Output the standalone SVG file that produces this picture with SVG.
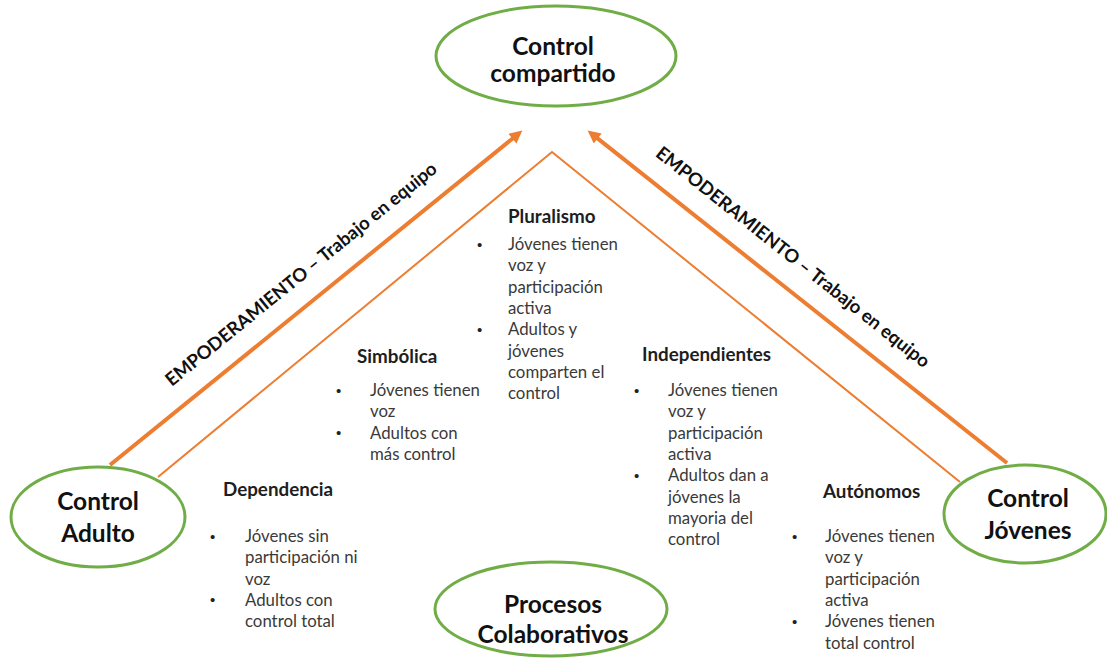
<svg xmlns="http://www.w3.org/2000/svg" width="1107" height="659" viewBox="0 0 1107 659">
  <style>
    .node ellipse { fill: #ffffff; stroke: #70ad47; stroke-width: 3; }
    .title { font-family: Lato, "Open Sans", sans-serif; font-weight: 700; font-size: 24.5px; fill: #111111; text-anchor: middle; }
    .head { font-family: Lato, "Open Sans", sans-serif; font-weight: 700; font-size: 18.8px; fill: #1e1e1e; }
    .item { font-family: Lato, "Open Sans", sans-serif; font-size: 16.8px; fill: #3a3a3a; }
    .dot { font-family: "Liberation Sans", sans-serif; font-size: 15px; fill: #222222; }
    .thick { stroke: #ed7d31; stroke-width: 4; fill: none; }
    .thin { stroke: #ed7d31; stroke-width: 2; fill: none; }
    .label { font-family: Lato, "Open Sans", sans-serif; font-weight: 700; font-size: 18.5px; fill: #111111; text-anchor: middle; }
  </style>
  <defs>
    <marker id="head" viewBox="0 0 10 10" refX="3" refY="5" markerWidth="3.5" markerHeight="3.2" orient="auto">
      <path d="M0,0 L10,5 L0,10 z" fill="#ed7d31"/>
    </marker>
  </defs>
  <rect width="1107" height="659" fill="#ffffff"/>

  <!-- connectors -->
  <g id="connectors">
    <line class="thick" x1="110" y1="465" x2="515.4" y2="136.2" marker-end="url(#head)"/>
    <line class="thick" x1="1007" y1="463" x2="594.7" y2="136.1" marker-end="url(#head)"/>
    <polyline class="thin" points="158,477 552,152 960,482"/>
    <text class="label" transform="translate(305,279) rotate(-39)">EMPODERAMIENTO  – Trabajo  en equipo</text>
    <text class="label" transform="translate(789,262) rotate(38.4)">EMPODERAMIENTO  – Trabajo  en equipo</text>
  </g>

  <!-- stages of the triangle -->
  <g id="pluralismo">
    <text class="head" x="508" y="223">Pluralismo</text>
    <text class="dot" x="477" y="250">•</text>
    <text class="dot" x="477" y="335">•</text>
    <text class="item" x="508" y="250">Jóvenes tienen</text>
    <text class="item" x="508" y="271.3">voz y</text>
    <text class="item" x="508" y="292.6">participación</text>
    <text class="item" x="508" y="313.9">activa</text>
    <text class="item" x="508" y="335.2">Adultos  y</text>
    <text class="item" x="508" y="356.5">jóvenes</text>
    <text class="item" x="508" y="377.8">comparten el</text>
    <text class="item" x="508" y="399.1">control</text>
  </g>

  <g id="simbolica">
    <text class="head" x="357" y="363">Simbólica</text>
    <text class="dot" x="336" y="396">•</text>
    <text class="dot" x="336" y="438">•</text>
    <text class="item" x="370" y="396">Jóvenes tienen</text>
    <text class="item" x="370" y="417.3">voz</text>
    <text class="item" x="370" y="438.6">Adultos con</text>
    <text class="item" x="370" y="459.9">más control</text>
  </g>

  <g id="dependencia">
    <text class="head" x="223" y="496">Dependencia</text>
    <text class="dot" x="210" y="542">•</text>
    <text class="dot" x="210" y="605">•</text>
    <text class="item" x="245" y="542">Jóvenes sin</text>
    <text class="item" x="245" y="563.3">participación ni</text>
    <text class="item" x="245" y="584.6">voz</text>
    <text class="item" x="245" y="605.9">Adultos con</text>
    <text class="item" x="245" y="627.2">control total</text>
  </g>

  <g id="independientes">
    <text class="head" x="642" y="361">Independientes</text>
    <text class="dot" x="634" y="396">•</text>
    <text class="dot" x="634" y="481">•</text>
    <text class="item" x="668" y="396">Jóvenes tienen</text>
    <text class="item" x="668" y="417.3">voz y</text>
    <text class="item" x="668" y="438.6">participación</text>
    <text class="item" x="668" y="459.9">activa</text>
    <text class="item" x="668" y="481.2">Adultos dan a</text>
    <text class="item" x="668" y="502.5">jóvenes la</text>
    <text class="item" x="668" y="523.8">mayoria del</text>
    <text class="item" x="668" y="545.1">control</text>
  </g>

  <g id="autonomos">
    <text class="head" x="823" y="498">Autónomos</text>
    <text class="dot" x="792" y="542">•</text>
    <text class="dot" x="792" y="627">•</text>
    <text class="item" x="825" y="542">Jóvenes tienen</text>
    <text class="item" x="825" y="563.3">voz y</text>
    <text class="item" x="825" y="584.6">participación</text>
    <text class="item" x="825" y="605.9">activa</text>
    <text class="item" x="825" y="627.2">Jóvenes tienen</text>
    <text class="item" x="825" y="648.5">total control</text>
  </g>

  <!-- ellipse nodes -->
  <g id="control-compartido" class="node">
    <ellipse cx="556" cy="56" rx="120" ry="50"/>
    <text class="title" x="553" y="55">Control</text>
    <text class="title" x="553" y="82">compartido</text>
  </g>

  <g id="control-adulto" class="node">
    <ellipse cx="98" cy="517" rx="87" ry="50"/>
    <text class="title" x="98" y="510">Control</text>
    <text class="title" x="98" y="542">Adulto</text>
  </g>

  <g id="control-jovenes" class="node">
    <ellipse cx="1025" cy="514" rx="81" ry="49"/>
    <text class="title" x="1028" y="507">Control</text>
    <text class="title" x="1028" y="539">Jóvenes</text>
  </g>

  <g id="procesos-colaborativos" class="node">
    <ellipse cx="551" cy="609" rx="116" ry="47"/>
    <text class="title" x="553" y="613">Procesos</text>
    <text class="title" x="553" y="643">Colaborativos</text>
  </g>
</svg>
